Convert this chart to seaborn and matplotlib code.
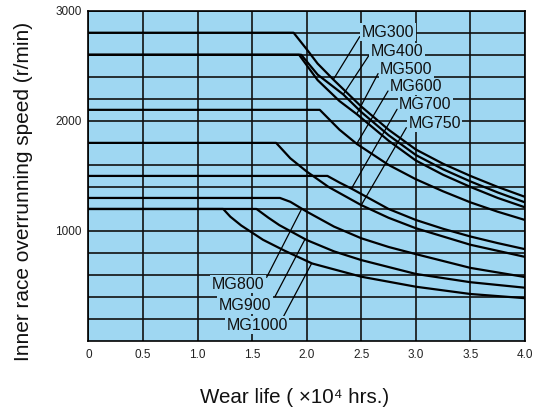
import numpy as np
import pandas as pd
import matplotlib
matplotlib.use('Agg')
import matplotlib.pyplot as plt
import seaborn as sns

# wear life (x10^4 hrs) vs inner race overrunning speed (r/min)
mg300_life = [0, 1.88, 2.0, 2.1, 2.244, 2.5, 2.75, 3.0, 3.25, 3.5, 3.75, 4.0]
mg300_speed = [2800, 2800, 2650, 2520, 2375, 2130, 1920, 1740, 1610, 1500, 1400, 1310]
mg400_life = [0, 1.95, 2.1, 2.335, 2.5, 2.75, 3.0, 3.25, 3.5, 3.75, 4.0]
mg400_speed = [2600, 2600, 2420, 2240, 2080, 1870, 1690, 1560, 1450, 1350, 1260]
mg500_life = [0, 1.93, 2.1, 2.3, 2.46, 2.75, 3.0, 3.25, 3.5, 3.75, 4.0]
mg500_speed = [2600, 2600, 2370, 2180, 2060, 1820, 1640, 1510, 1400, 1300, 1215]
mg600_life = [0, 2.12, 2.3, 2.46, 2.75, 3.0, 3.25, 3.5, 3.75, 4.0]
mg600_speed = [2100, 2100, 1920, 1790, 1600, 1470, 1360, 1260, 1175, 1100]
mg700_life = [0, 2.19, 2.3, 2.41, 2.75, 3.0, 3.25, 3.5, 3.75, 4.0]
mg700_speed = [1500, 1500, 1440, 1385, 1200, 1100, 1020, 950, 890, 835]
mg750_life = [0, 1.72, 1.85, 2.0, 2.2, 2.5, 2.75, 3.0, 3.5, 4.0]
mg750_speed = [1800, 1800, 1660, 1540, 1400, 1235, 1120, 1025, 875, 765]
mg800_life = [0, 1.755, 1.85, 2.0, 2.25, 2.5, 2.75, 3.0, 3.5, 4.0]
mg800_speed = [1300, 1300, 1265, 1176, 1040, 934, 855, 790, 665, 582]
mg900_life = [0, 1.54, 1.65, 1.75, 2.0, 2.25, 2.5, 3.0, 3.5, 4.0]
mg900_speed = [1200, 1200, 1120, 1053, 918, 815, 736, 610, 535, 485]
mg1000_life = [0, 1.235, 1.3, 1.4, 1.6, 1.8, 2.05, 2.5, 3.0, 3.5, 4.0]
mg1000_speed = [1200, 1200, 1130, 1050, 920, 820, 705, 585, 494, 428, 390]

models = ['MG300', 'MG400', 'MG500', 'MG600', 'MG700', 'MG750', 'MG800', 'MG900', 'MG1000']
lifes = [mg300_life, mg400_life, mg500_life, mg600_life, mg700_life, mg750_life,
         mg800_life, mg900_life, mg1000_life]
speeds = [mg300_speed, mg400_speed, mg500_speed, mg600_speed, mg700_speed, mg750_speed,
          mg800_speed, mg900_speed, mg1000_speed]

x_ticks = [0, 0.5, 1.0, 1.5, 2.0, 2.5, 3.0, 3.5, 4.0]
x_tick_labels = ['0', '0.5', '1.0', '1.5', '2.0', '2.5', '3.0', '3.5', '4.0']
y_ticks = [1000, 2000, 3000]

df = pd.concat([pd.DataFrame({'life': x, 'speed': y, 'model': m})
                for m, x, y in zip(models, lifes, speeds)], ignore_index=True)

sns.set_theme(style='white')
plt.rcParams['font.family'] = ['Liberation Sans', 'DejaVu Sans']

bg = '#9fd7f2'
fig = plt.figure(figsize=(5.39, 4.12), dpi=100)
ax = fig.add_axes([0.164, 0.172, 0.810, 0.802])
ax.set_facecolor(bg)

sns.lineplot(data=df, x='life', y='speed', units='model', estimator=None, sort=False,
             color='black', lw=1.6, legend=False, ax=ax, zorder=3)

ax.set_xlim(0, 4)
ax.set_ylim(0, 3000)
ax.set_xticks(x_ticks)
ax.set_xticklabels(x_tick_labels)
ax.set_yticks(y_ticks)
ax.set_yticks(np.arange(200, 3000, 200), minor=True)
ax.grid(True, which='both', color='#111111', lw=1.2, zorder=1)
ax.set_axisbelow(True)
ax.tick_params(which='both', length=0, labelsize=8.5, labelcolor='#222222')
ax.tick_params(axis='y', pad=5)
ax.tick_params(axis='x', pad=6)
for s in ax.spines.values():
    s.set_color('black')
    s.set_linewidth(1.2)

ax.set_xlabel('Wear life ( \u00d710\u2074 hrs.)', fontsize=14.8, color='#111111')
ax.xaxis.set_label_coords(0.472, -0.142)
ax.set_ylabel('Inner race overrunning speed (r/min)', fontsize=15, color='#111111')
ax.yaxis.set_label_coords(-0.128, 0.452)

# curve labels with leader lines
label_pos = {
    'MG300': (2.504, 2806), 'MG400': (2.587, 2630), 'MG500': (2.672, 2470),
    'MG600': (2.764, 2312), 'MG700': (2.846, 2145), 'MG750': (2.931, 1979),
    'MG800': (1.129, 518), 'MG900': (1.196, 327), 'MG1000': (1.267, 145),
}
leader_start = {
    'MG300': (2.486, 2765), 'MG400': (2.568, 2591), 'MG500': (2.654, 2429),
    'MG600': (2.745, 2271), 'MG700': (2.828, 2105), 'MG750': (2.913, 1938),
    'MG800': (1.633, 579), 'MG900': (1.709, 403), 'MG1000': (1.786, 221),
}
leader_end_x = {
    'MG300': 2.244, 'MG400': 2.335, 'MG500': 2.458, 'MG600': 2.458, 'MG700': 2.41,
    'MG750': 2.50, 'MG800': 1.955, 'MG900': 1.985, 'MG1000': 2.046,
}

for m, x, y in zip(models, lifes, speeds):
    lx, ly = label_pos[m]
    ax.text(lx, ly, m, ha='left', va='center', fontsize=11.5, color='#111111', zorder=5,
            bbox=dict(facecolor=bg, edgecolor='none', pad=1.0))
    sx, sy = leader_start[m]
    ex = leader_end_x[m]
    ey = np.interp(ex, x, y)
    ax.plot([sx, ex], [sy, ey], color='black', lw=0.9, zorder=4)

fig.savefig('out.png', dpi=100)
